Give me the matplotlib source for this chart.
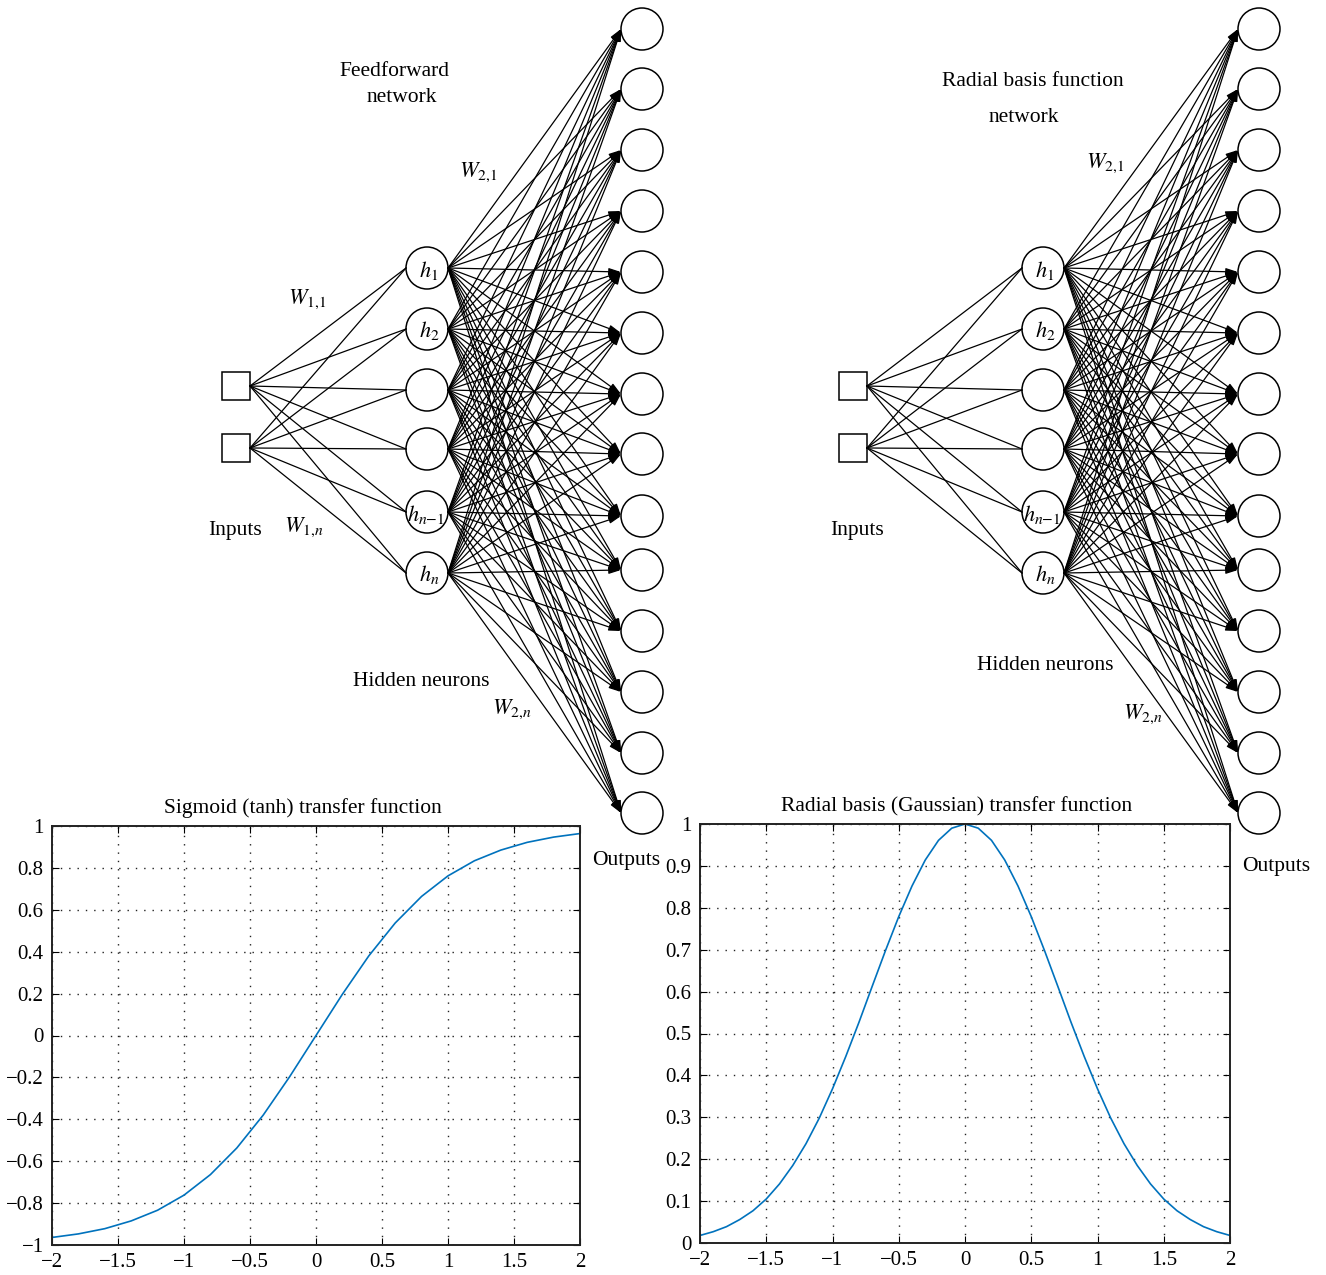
import matplotlib
matplotlib.use("Agg")
import matplotlib.pyplot as plt
from matplotlib.patches import Circle, Rectangle, FancyArrowPatch

plt.rcParams["font.family"] = "serif"
plt.rcParams["font.serif"] = ["Liberation Serif", "DejaVu Serif"]
plt.rcParams["mathtext.fontset"] = "stix"

# --- DATA ---
tanh_x = [-2.0, -1.8, -1.6, -1.4, -1.2, -1.0, -0.8, -0.6, -0.4, -0.2, 0.0,
          0.2, 0.4, 0.6, 0.8, 1.0, 1.2, 1.4, 1.6, 1.8, 2.0]
tanh_y = [-0.964, -0.947, -0.922, -0.885, -0.834, -0.762, -0.664, -0.537, -0.380, -0.197, 0.0,
          0.197, 0.380, 0.537, 0.664, 0.762, 0.834, 0.885, 0.922, 0.947, 0.964]

gauss_x = [-2.0, -1.9, -1.8, -1.7, -1.6, -1.5, -1.4, -1.3, -1.2, -1.1, -1.0,
           -0.9, -0.8, -0.7, -0.6, -0.5, -0.4, -0.3, -0.2, -0.1, 0.0,
           0.1, 0.2, 0.3, 0.4, 0.5, 0.6, 0.7, 0.8, 0.9, 1.0,
           1.1, 1.2, 1.3, 1.4, 1.5, 1.6, 1.7, 1.8, 1.9, 2.0]
gauss_y = [0.018, 0.027, 0.039, 0.056, 0.077, 0.105, 0.141, 0.185, 0.237, 0.298, 0.368,
           0.445, 0.527, 0.613, 0.698, 0.779, 0.852, 0.914, 0.961, 0.990, 1.0,
           0.990, 0.961, 0.914, 0.852, 0.779, 0.698, 0.613, 0.527, 0.445, 0.368,
           0.298, 0.237, 0.185, 0.141, 0.105, 0.077, 0.056, 0.039, 0.027, 0.018]

x_ticks = [-2, -1.5, -1, -0.5, 0, 0.5, 1, 1.5, 2]
x_ticklabels = ["\u22122", "\u22121.5", "\u22121", "\u22120.5", "0", "0.5", "1", "1.5", "2"]
tanh_yticks = [-1, -0.8, -0.6, -0.4, -0.2, 0, 0.2, 0.4, 0.6, 0.8, 1]
tanh_yticklabels = ["\u22121", "\u22120.8", "\u22120.6", "\u22120.4", "\u22120.2", "0",
                    "0.2", "0.4", "0.6", "0.8", "1"]
gauss_yticks = [0, 0.1, 0.2, 0.3, 0.4, 0.5, 0.6, 0.7, 0.8, 0.9, 1]
gauss_yticklabels = ["0", "0.1", "0.2", "0.3", "0.4", "0.5", "0.6", "0.7", "0.8", "0.9", "1"]

hidden_labels = ["$h_1$", "$h_2$", "", "", "$h_{n{\u2212}1}$", "$h_n$"]
n_inputs = 2
n_outputs = 14

# --- LAYOUT (pixels) ---
W, H = 1326, 1275
input_ys = [386, 448]
hidden_ys = [268, 329, 390, 449, 512, 573]
output_ys = [29, 89, 150, 211, 272, 333, 394, 454, 516, 570, 631, 692, 753, 813]
r_hid, r_out, sq = 21, 21, 28

fig = plt.figure(figsize=(W / 100, H / 100), dpi=100)

blue = "#0072BD"
fs = 15.5


def style_plot(ax, yticks, yticklabels):
    ax.set_xlim(-2, 2)
    ax.set_xticks(x_ticks)
    ax.set_xticklabels(x_ticklabels)
    ax.set_yticks(yticks)
    ax.set_yticklabels(yticklabels)
    ax.grid(True, color="#222222", linestyle=(0, (1, 5)), linewidth=1.0)
    ax.tick_params(direction="in", length=5, top=True, right=True, labelsize=15, pad=6)
    for s in ax.spines.values():
        s.set_linewidth(1.4)
        s.set_color("#222222")


ax1 = fig.add_axes([52 / W, 1 - 1245 / H, 528 / W, 419 / H])
ax1.plot(tanh_x, tanh_y, color=blue, linewidth=1.2)
ax1.set_ylim(-1, 1)
style_plot(ax1, tanh_yticks, tanh_yticklabels)
ax1.set_title("Sigmoid (tanh) transfer function", fontsize=fs, pad=9, x=0.475)

ax2 = fig.add_axes([700 / W, 1 - 1243 / H, 530 / W, 419 / H])
ax2.plot(gauss_x, gauss_y, color=blue, linewidth=1.2)
ax2.set_ylim(0, 1)
style_plot(ax2, gauss_yticks, gauss_yticklabels)
ax2.set_title("Radial basis (Gaussian) transfer function", fontsize=fs, pad=9, x=0.485)

# overlay for the network diagrams
ov = fig.add_axes([0, 0, 1, 1])
ov.set_xlim(0, W)
ov.set_ylim(H, 0)
ov.axis("off")
ov.patch.set_alpha(0)


def draw_network(x_in, x_hid, x_out):
    lw = 0.9
    for yi in input_ys:
        ov.add_patch(Rectangle((x_in - sq / 2, yi - sq / 2), sq, sq, fill=False,
                               edgecolor="black", linewidth=1.1))
        for yh in hidden_ys:
            ov.plot([x_in + sq / 2, x_hid - r_hid], [yi, yh], color="black", linewidth=lw)
    for yh, lab in zip(hidden_ys, hidden_labels):
        ov.add_patch(Circle((x_hid, yh), r_hid, fill=False, edgecolor="black", linewidth=1.1))
        if lab:
            dx = -1 if "n{" in lab else 2
            ov.text(x_hid + dx, yh + 2, lab, fontsize=16, ha="center", va="center", zorder=5)
        for yo in output_ys:
            ov.add_patch(FancyArrowPatch((x_hid + r_hid, yh), (x_out - r_out, yo),
                                         arrowstyle="-|>,head_length=0.6,head_width=0.18",
                                         mutation_scale=12, shrinkA=0, shrinkB=0,
                                         color="black", linewidth=lw))
    for yo in output_ys:
        ov.add_patch(Circle((x_out, yo), r_out, fill=False, edgecolor="black", linewidth=1.1))


draw_network(236, 427, 642)
draw_network(853, 1043, 1259)

# left labels
ov.text(394, 71, "Feedforward", fontsize=fs, ha="center", va="center")
ov.text(402, 98, "network", fontsize=fs, ha="center", va="center")
ov.text(478, 172, "$W_{2{,}1}$", fontsize=16, ha="center", va="center")
ov.text(307, 299, "$W_{1{,}1}$", fontsize=16, ha="center", va="center")
ov.text(235, 531, "Inputs", fontsize=fs, ha="center", va="center")
ov.text(304, 527, "$W_{1{,}n}$", fontsize=16, ha="center", va="center")
ov.text(421, 681, "Hidden neurons", fontsize=fs, ha="center", va="center")
ov.text(512, 709, "$W_{2{,}n}$", fontsize=16, ha="center", va="center")
ov.text(626, 860, "Outputs", fontsize=fs, ha="center", va="center")

# right labels
ov.text(1033, 82, "Radial basis function", fontsize=fs, ha="center", va="center")
ov.text(1024, 117, "network", fontsize=fs, ha="center", va="center")
ov.text(1105, 163, "$W_{2{,}1}$", fontsize=16, ha="center", va="center")
ov.text(857, 531, "Inputs", fontsize=fs, ha="center", va="center")
ov.text(1045, 666, "Hidden neurons", fontsize=fs, ha="center", va="center")
ov.text(1143, 714, "$W_{2{,}n}$", fontsize=16, ha="center", va="center")
ov.text(1276, 867, "Outputs", fontsize=fs, ha="center", va="center")

fig.savefig("out.png", dpi=100)
